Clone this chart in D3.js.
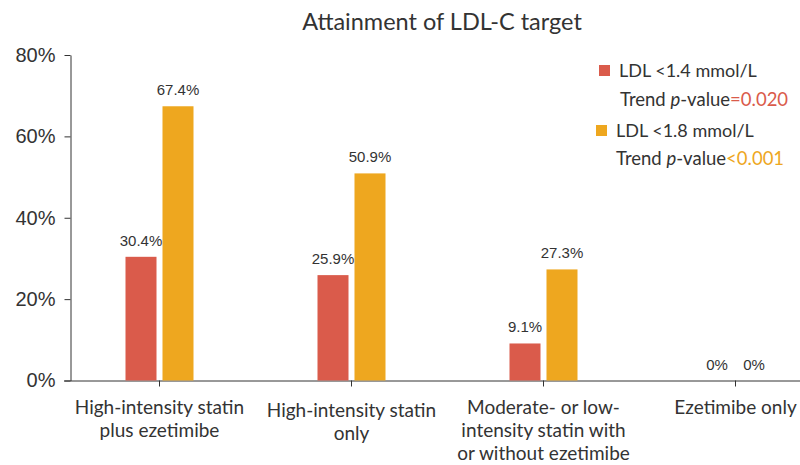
<!DOCTYPE html>
<html>
<head>
<meta charset="utf-8">
<script src="https://cdn.jsdelivr.net/npm/d3@7"></script>
<style>
  body { margin: 0; background: #fff; }
  svg { display: block; }
</style>
</head>
<body>
<div id="chart"></div>
<script>
//Datos
const categories = [
    ['High-intensity statin', 'plus ezetimibe'],
    ['High-intensity statin', 'only'],
    ['Moderate- or low-', 'intensity statin with', 'or without ezetimibe'],
    ['Ezetimibe only']
];
const series = ['LDL <1.4 mmol/L', 'LDL <1.8 mmol/L'];
const ldl14 = [30.4, 25.9, 9.1, 0];
const ldl18 = [67.4, 50.9, 27.3, 0];
const yTicks = [0, 20, 40, 60, 80];
const pValues = ['=0.020', '<0.001'];

//Colores
const COLOR_RED = '#DA5B4B',
COLOR_ORANGE = '#EEA71F',
COLOR_TEXT = '#333333';

let width = 800, height = 465;
let margin = {top: 55, left: 70.5, bottom: 84.5};

let svg = d3.select('#chart')
    .append('svg')
        .attr('width', width)
        .attr('height', height);

//Ejes
let x = d3.scaleBand()
    .domain(d3.range(categories.length))
    .range([63.5, 831.5]);

let x1 = d3.scaleBand()
    .domain(series)
    .range([-34, 34])
    .paddingInner(0.162);

let y = d3.scaleLinear()
    .domain([0, 80])
    .range([height - margin.bottom, margin.top]);

let yAxis = svg.append('g')
    .attr('transform', 'translate(' + margin.left + ',0)')
    .call(d3.axisLeft(y).tickValues(yTicks).tickSize(6).tickPadding(9).tickSizeOuter(0).tickFormat(function(d) { return d + '%'; }));

yAxis.selectAll('text')
    .style('font-family', '"Liberation Sans", Arial, sans-serif')
    .style('font-size', '20px')
    .attr('fill', COLOR_TEXT);
yAxis.selectAll('line, path').attr('stroke', '#333');

let xAxis = svg.append('g')
    .attr('transform', 'translate(0,' + y(0) + ')')
    .call(d3.axisBottom(x).tickSize(6).tickSizeOuter(0).tickFormat(''));
xAxis.selectAll('line, path').attr('stroke', '#333');

//Etiquetas de categorías
let labelOffsets = [0, 3, 0, 0];
categories.forEach(function(lines, i) {
    let t = svg.append('text')
        .attr('x', x(i) + x.bandwidth() / 2)
        .attr('y', 414 + labelOffsets[i])
        .attr('text-anchor', 'middle')
        .style('font-family', 'Lato, sans-serif')
        .style('font-size', '19px')
        .attr('fill', COLOR_TEXT);
    lines.forEach(function(l, j) {
        t.append('tspan')
            .attr('x', x(i) + x.bandwidth() / 2)
            .attr('dy', j == 0 ? 0 : 23)
            .text(l);
    });
});

//Barras
let data = categories.map(function(c, i) {
    return [{key: series[0], value: ldl14[i], color: COLOR_RED}, {key: series[1], value: ldl18[i], color: COLOR_ORANGE}];
});

let groups = svg.append('g')
    .selectAll('g')
    .data(data)
    .enter()
    .append('g')
    .attr('transform', function(d, i) { return 'translate(' + (x(i) + x.bandwidth() / 2) + ',0)'; });

groups.selectAll('rect')
    .data(function(d) { return d; })
    .enter()
    .append('rect')
        .attr('x', function(d) { return x1(d.key); })
        .attr('y', function(d) { return y(d.value); })
        .attr('width', x1.bandwidth())
        .attr('height', function(d) { return y(0) - y(d.value); })
        .attr('fill', function(d) { return d.color; });

groups.selectAll('text')
    .data(function(d) { return d; })
    .enter()
    .append('text')
        .attr('x', function(d) { return x1(d.key) + x1.bandwidth() / 2; })
        .attr('y', function(d) { return y(d.value) - 11; })
        .attr('text-anchor', 'middle')
        .style('font-family', '"Liberation Sans", Arial, sans-serif')
        .style('font-size', '15px')
        .attr('fill', COLOR_TEXT)
        .text(function(d) { return d.value + '%'; });

//Título
svg.append('text')
    .attr('x', 442)
    .attr('y', 30)
    .attr('text-anchor', 'middle')
    .style('font-family', 'Lato, sans-serif')
    .style('font-size', '23.5px')
    .attr('fill', COLOR_TEXT)
    .text('Attainment of LDL-C target');

//Leyenda
let legendColors = [COLOR_RED, COLOR_ORANGE];
let legendPos = [{sx: 599, sy: 65, tx: 619, ty: 77, px: 620, py: 106}, {sx: 596, sy: 125, tx: 616, ty: 137, px: 616, py: 165}];
series.forEach(function(s, i) {
    let p = legendPos[i];
    svg.append('rect')
        .attr('x', p.sx).attr('y', p.sy)
        .attr('width', 11).attr('height', 11)
        .attr('fill', legendColors[i]);
    svg.append('text')
        .attr('x', p.tx).attr('y', p.ty)
        .style('font-family', 'Lato, sans-serif')
        .style('font-size', '18px')
        .attr('fill', COLOR_TEXT)
        .text(s);
    let t = svg.append('text')
        .attr('x', p.px).attr('y', p.py)
        .style('font-family', 'Lato, sans-serif')
        .style('font-size', '18.5px')
        .attr('fill', COLOR_TEXT);
    t.append('tspan').text('Trend ');
    t.append('tspan').style('font-style', 'italic').text('p');
    t.append('tspan').text('-value');
    t.append('tspan').attr('fill', legendColors[i]).text(pValues[i]);
});
</script>
</body>
</html>
